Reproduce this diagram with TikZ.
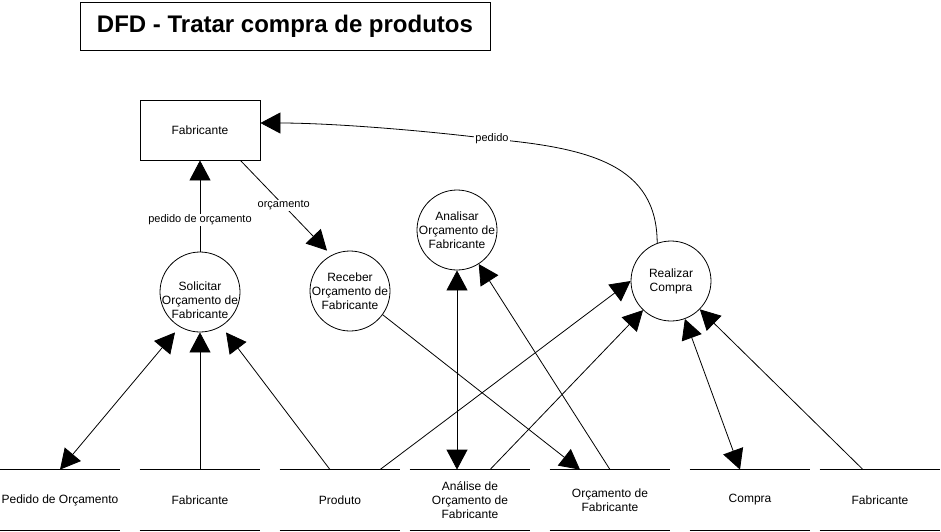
\documentclass[tikz,border=0pt]{standalone}
\usepackage{fontspec}
\setmainfont{Liberation Sans}
\usepackage{tikz}
\usetikzlibrary{arrows.meta, positioning, calc}

\begin{document}
\begin{tikzpicture}[x=1pt, y=-1pt, line width=0.8pt, >={Triangle[length=20pt, width=21pt]}]
	\tikzstyle{titlebox}=[rectangle, draw=black, minimum width=410pt, minimum height=48pt, font=\fontsize{24pt}{28pt}\selectfont\bfseries]
	\tikzstyle{entbox}=[rectangle, draw=black, minimum width=120pt, minimum height=60pt, font=\fontsize{12pt}{14pt}\selectfont]
	\tikzstyle{procc}=[circle, draw=black, minimum size=80pt, inner sep=0pt]
	\tikzstyle{proctxt}=[align=center, inner sep=0pt, font=\fontsize{12pt}{14pt}\selectfont]
	\tikzstyle{storec}=[rectangle, minimum width=120pt, minimum height=60pt, inner sep=0pt, align=center, font=\fontsize{12pt}{14pt}\selectfont]
	\tikzstyle{flowlbl}=[fill=white, inner sep=1pt, font=\fontsize{11pt}{13pt}\selectfont]
	\useasboundingbox (0,0) rectangle (941,531);

	\node (title) at (285,26) [titlebox] {DFD - Tratar compra de produtos};
	\node (fab) at (200,130) [entbox] {Fabricante};

	% processos
	\node (sol) at (200,292) [procc, label={[proctxt, yshift=-8pt]center:{Solicitar\\Orçamento de\\Fabricante}}] {};
	\node (rec) at (350,291) [procc, label={[proctxt]center:{Receber\\Orçamento de\\Fabricante}}] {};
	\node (anl) at (457,230) [procc, label={[proctxt]center:{Analisar\\Orçamento de\\Fabricante}}] {};
	\node (real) at (671,281) [procc, label={[proctxt]center:{Realizar\\Compra}}] {};

	% depositos
	\node (dpedido) at (60,500) [storec] {Pedido de Orçamento};
	\node (dfab) at (200,500) [storec] {Fabricante};
	\node (dprod) at (340,500) [storec] {Produto};
	\node (danal) at (470,500) [storec] {Análise de\\Orçamento de\\Fabricante};
	\node (dorc) at (610,500) [storec] {Orçamento de\\Fabricante};
	\node (dcomp) at (750,500) [storec] {Compra};
	\node (dfabb) at (880,500) [storec] {Fabricante};
	\foreach \s in {dpedido,dfab,dprod,danal,dorc,dcomp,dfabb}
		\draw (\s.north west) -- (\s.north east) (\s.south west) -- (\s.south east);

	% fluxos
	\draw[->] (sol) -- node[flowlbl, pos=0.35] {pedido de orçamento} (fab);
	\draw[->] ([xshift=-20pt]fab.south east) -- node[flowlbl] {orçamento} ([xshift=-23pt]rec.north);
	\draw[->] (real.110) .. controls (657,165) and (590,148) .. (492,139) node[flowlbl] {pedido}
		.. controls (420,130) and (330,123) .. ([yshift=7pt]fab.east);
	\draw[<->] (dpedido.north) -- ([xshift=-25pt]sol.south);
	\draw[->] (dfab.north) -- (sol.south);
	\draw[->] ([xshift=-10pt]dprod.north) -- ([xshift=26pt]sol.south);
	\draw[->] ([xshift=40pt]dprod.north) -- (real.west);
	\draw[->] (rec.-36) -- ([xshift=-30pt]dorc.north);
	\draw[<->] ([xshift=-13pt]danal.north) -- (anl.south);
	\draw[->] ([xshift=20pt]danal.north) -- (real);
	\draw[->] (dorc.north) -- (anl);
	\draw[<->] ([xshift=-10pt]dcomp.north) -- (real);
	\draw[->] ([xshift=-17pt]dfabb.north) -- (real);
\end{tikzpicture}
\end{document}
